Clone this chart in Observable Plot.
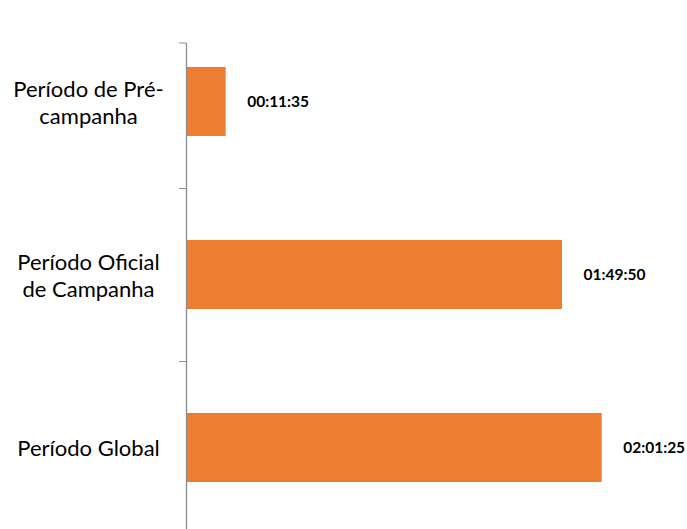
<!DOCTYPE html>
<html><head><meta charset="utf-8">
<script src="https://cdn.jsdelivr.net/npm/d3@7"></script>
<script src="https://cdn.jsdelivr.net/npm/@observablehq/plot@0.6"></script>
<style>
html,body{margin:0;padding:0;background:#fff;overflow:hidden;width:687px;height:529px}
#title{position:absolute;top:-23px;left:0;width:687px;text-align:center;font:bold 20px Lato, sans-serif;line-height:20px;color:#000}
#chart{position:absolute;top:0;left:0}
</style></head><body>
<div id="chart"></div>
<div id="title">Tempo global de exposição dos candidatos, por período</div>
<script>
const categories = ["Período de Pré-campanha", "Período Oficial de Campanha", "Período Global"];
const labelLines = ["Período de Pré-\ncampanha", "Período Oficial\nde Campanha", "Período Global"];
const durations = ["00:11:35", "01:49:50", "02:01:25"];
const axisMaxLabel = "02:24:00";

const toSec = s => { const [h, m, ss] = s.split(":").map(Number); return h * 3600 + m * 60 + ss; };
const data = categories.map((c, i) => ({category: c, text: durations[i], seconds: toSec(durations[i])}));

const chart = Plot.plot({
  width: 687, height: 535,
  marginLeft: 186, marginRight: 8, marginTop: 43, marginBottom: 0,
  x: {domain: [0, toSec(axisMaxLabel)], axis: null},
  y: {domain: categories, range: [15.5, 534.5], paddingInner: 0.6, paddingOuter: 0.3, axis: null},
  style: {fontFamily: "Lato, sans-serif", background: "white", color: "black"},
  marks: [
    Plot.barX(data, {x: "seconds", y: "category", fill: "#ED7D31"}),
    Plot.text(data, {x: "seconds", y: "category", text: "text", textAnchor: "start", dx: 21, fontWeight: "bold", fontSize: 15.5, fill: "#000"}),
    Plot.ruleX([0], {stroke: "#8c8c8c", strokeWidth: 1.3}),
    Plot.axisY({label: null, tickSize: 0, tickPadding: 98, textAnchor: "middle", fontSize: 22, lineHeight: 1.2, tickFormat: d => labelLines[categories.indexOf(d)], fill: "#000"}),
    Plot.axisY({label: null, ticks: categories.slice(1), tickFormat: () => "", tickSize: 7, dy: -86.5, stroke: "#8c8c8c", strokeOpacity: 1}),
    Plot.axisY({label: null, ticks: categories.slice(0, 1), tickFormat: () => "", tickSize: 7, dy: -59, stroke: "#8c8c8c", strokeOpacity: 1})
  ]
});
document.getElementById("chart").appendChild(chart);
</script>
</body></html>
